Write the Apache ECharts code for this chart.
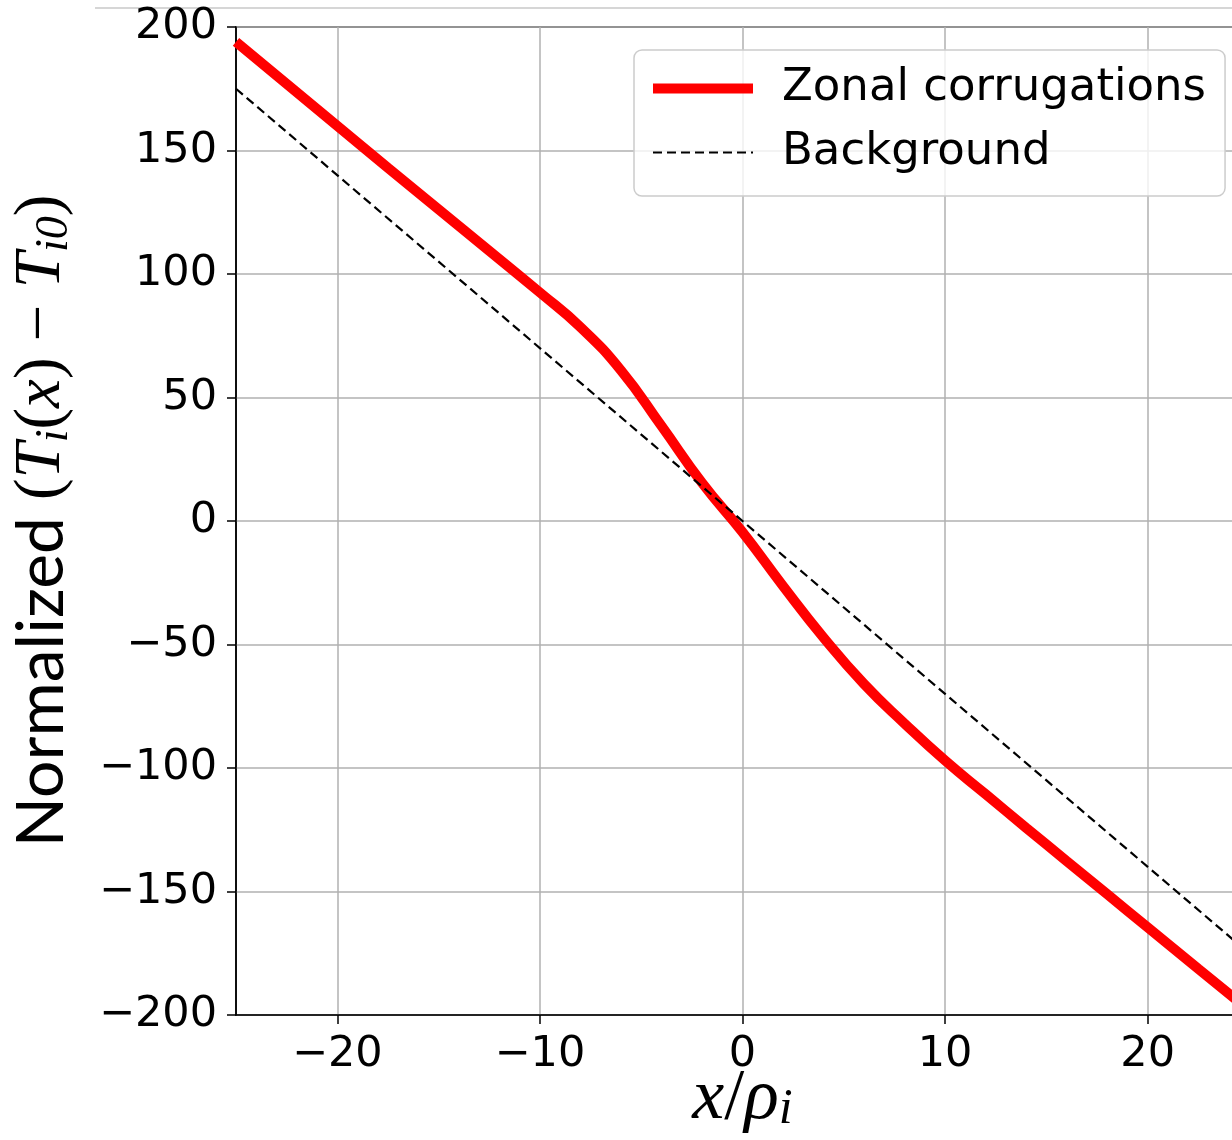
<!DOCTYPE html>
<html>
<head>
<meta charset="utf-8">
<script src="https://cdn.jsdelivr.net/npm/echarts@6/dist/echarts.min.js"></script>
<style>html,body{margin:0;padding:0;background:#fff;}#c{width:1232px;height:1140px;}</style>
</head>
<body>
<div id="c"></div>
<script>
// Data
const corrX = [-25, -22.5, -20, -17.5, -15, -12.5, -10, -8, -6, -4, -2, 0, 2, 4, 6, 8, 10, 12, 14, 16, 18, 20, 22.5, 25];
const corrY = [194, 177, 160, 143, 126.2, 109.4, 92.5, 78.5, 61, 38.5, 15.5, -4.5, -26.3, -47.2, -66, -82, -97, -110.6, -124.2, -137.7, -151.1, -164.5, -181.3, -198];
const bgX = [-25, 25];
const bgY = [175, -175];
const xTicks = [-20, -10, 0, 10, 20];
const seriesNames = ['Zonal corrugations', 'Background'];

const corrData = corrX.map((x, i) => [x, corrY[i]]);
const bgData = bgX.map((x, i) => [x, bgY[i]]);
const minus = v => String(v).replace('-', '\u2212');

const chart = echarts.init(document.getElementById('c'), null, {renderer: 'canvas'});
const mathFont = '"Liberation Serif", serif';
chart.setOption({
  animation: false,
  backgroundColor: '#fff',
  graphic: [{
    type: 'line', shape: {x1: 95, y1: 8, x2: 1232, y2: 8},
    style: {stroke: '#d6d6d6', lineWidth: 2}, silent: true
  }],
  grid: {left: 236, top: 27, width: 1013, height: 988, show: true,
    outerBoundsMode: 'none', containLabel: false,
    borderColor: '#000', borderWidth: 1.5, backgroundColor: 'transparent'},
  legend: {
    data: [
      {name: seriesNames[0], lineStyle: {width: 10}},
      {name: seriesNames[1], lineStyle: {width: 2}}
    ],
    itemStyle: {opacity: 0},
    left: 634, top: 50, orient: 'vertical',
    padding: [16, 19, 21, 14], itemGap: 19,
    itemWidth: 100, itemHeight: 10,
    backgroundColor: 'rgba(255,255,255,0.8)', borderColor: '#cccccc', borderWidth: 1.5, borderRadius: 8,
    textStyle: {fontFamily: '"DejaVu Sans"', fontSize: 45, color: '#000', padding: [0, 0, 0, 24]}
  },
  xAxis: {
    type: 'value', min: -25, max: 25,
    axisLine: {show: true, onZero: false, lineStyle: {color: '#000', width: 1.5}},
    axisTick: {show: true, length: 9, lineStyle: {color: '#000', width: 1.5}, customValues: xTicks},
    axisLabel: {customValues: xTicks, formatter: minus, fontFamily: '"DejaVu Sans"', fontSize: 43, color: '#000', margin: 18},
    splitLine: {show: true, lineStyle: {color: '#b0b0b0', width: 1.5}},
    name: '{i|x}{n|/}{i|\u03c1}{s|i}',
    nameLocation: 'middle', nameGap: 48, nameMoveOverlap: false,
    nameTextStyle: {
      rich: {
        i: {fontFamily: mathFont, fontStyle: 'italic', fontSize: 72, lineHeight: 72, color: '#000'},
        n: {fontFamily: mathFont, fontSize: 72, lineHeight: 72, color: '#000'},
        s: {fontFamily: mathFont, fontStyle: 'italic', fontSize: 50, lineHeight: 72, verticalAlign: 'bottom', padding: [22, 0, 0, 0], color: '#000'}
      }
    }
  },
  yAxis: {
    type: 'value', min: -200, max: 200, interval: 50,
    axisLine: {show: true, onZero: false, lineStyle: {color: '#000', width: 1.5}},
    axisTick: {show: true, length: 9, lineStyle: {color: '#000', width: 1.5}},
    axisLabel: {formatter: minus, fontFamily: '"DejaVu Sans"', fontSize: 43, color: '#000', margin: 19},
    splitLine: {show: true, lineStyle: {color: '#b0b0b0', width: 1.5}},
    name: '{n|Normalized }{m|(}{i|T}{s|i}{m|(}{i|x}{m|) \u2212 }{i|T}{s|i0}{m|)}',
    nameLocation: 'middle', nameGap: 158, nameRotate: 90, nameMoveOverlap: false,
    nameTextStyle: {
      rich: {
        n: {fontFamily: 'Lato, "Open Sans", sans-serif', fontSize: 66, lineHeight: 72, color: '#000'},
        m: {fontFamily: mathFont, fontSize: 65, lineHeight: 72, color: '#000'},
        i: {fontFamily: mathFont, fontStyle: 'italic', fontSize: 65, lineHeight: 72, color: '#000'},
        s: {fontFamily: mathFont, fontStyle: 'italic', fontSize: 46, lineHeight: 72, verticalAlign: 'bottom', padding: [20, 0, 0, 0], color: '#000'}
      }
    }
  },
  series: [
    {name: seriesNames[0], type: 'line', data: corrData, symbol: 'none', smooth: 0.5, clip: true, z: 2,
     lineStyle: {color: '#ff0000', width: 10}, itemStyle: {color: '#ff0000'}},
    {name: seriesNames[1], type: 'line', data: bgData, symbol: 'none', clip: true, z: 3,
     lineStyle: {color: '#000', width: 2.2, type: [9, 5]}, itemStyle: {color: '#000'}}
  ]
});
</script>
</body>
</html>
